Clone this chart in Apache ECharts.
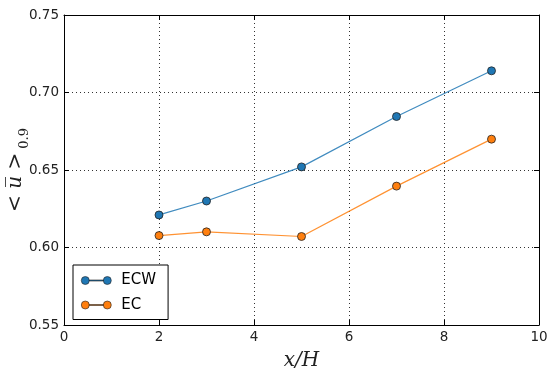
<!DOCTYPE html>
<html>
<head>
<meta charset="utf-8">
<script src="https://cdn.jsdelivr.net/npm/echarts@6/dist/echarts.min.js"></script>
<style>html,body{margin:0;padding:0;background:#fff}#c{width:550px;height:379px}</style>
</head>
<body>
<div id="c"></div>
<script>
const xValues = [2, 3, 5, 7, 9];
const ecwValues = [0.621, 0.630, 0.652, 0.6845, 0.714];
const ecValues = [0.6077, 0.6101, 0.6071, 0.6396, 0.6699];
const seriesNames = ['ECW', 'EC'];
const seriesColors = ['#1f77b4', '#ff7f0e'];

const chart = echarts.init(document.getElementById('c'), null, {renderer: 'canvas'});
const tickFont = {fontFamily: 'DejaVu Sans', fontSize: 13.5, color: '#222'};
const legendIcon = 'path://M0,4 a4,4 0 1,0 8,0 a4,4 0 1,0 -8,0 Z M8,3.5 L22,3.5 L22,4.5 L8,4.5 Z M22,4 a4,4 0 1,0 8,0 a4,4 0 1,0 -8,0 Z';

function mkSeries(name, vals, color) {
  return {
    name: name, type: 'line',
    data: xValues.map((x, i) => [x, vals[i]]),
    symbol: 'circle', symbolSize: 8,
    lineStyle: {color: color, width: 1.2, opacity: 0.85},
    itemStyle: {color: color, borderColor: '#222', borderWidth: 0.8},
    emphasis: {disabled: true},
    z: 5
  };
}

chart.setOption({
  animation: false,
  grid: {left: 64, right: 11, top: 15, bottom: 54, show: false, containLabel: false, outerBoundsMode: 'none'},
  legend: {
    left: 73, top: 265, orient: 'vertical',
    padding: [8, 12, 7, 8],
    borderColor: '#000', borderWidth: 1, backgroundColor: '#fff',
    itemWidth: 30, itemHeight: 8, itemGap: 9.5,
    icon: legendIcon,
    textStyle: {fontFamily: 'DejaVu Sans', fontSize: 15, color: '#000', padding: [0, 0, 0, 5], lineHeight: 14},
    data: seriesNames.map((n, i) => ({name: n, itemStyle: {color: seriesColors[i], borderColor: '#222', borderWidth: 0.6}}))
  },
  xAxis: [{
    type: 'value', min: 0, max: 10, interval: 2, position: 'bottom',
    axisLine: {show: true, lineStyle: {color: '#000', width: 1}},
    axisTick: {show: true, inside: true, length: 5, lineStyle: {color: '#000'}},
    axisLabel: Object.assign({margin: 5}, tickFont),
    splitLine: {show: true, lineStyle: {color: '#333', type: [1, 3], width: 1}},
    name: 'x/H', nameLocation: 'middle', nameGap: 26, nameMoveOverlap: false,
    nameTextStyle: {fontFamily: 'DejaVu Serif', fontStyle: 'italic', fontSize: 20, color: '#222'}
  }, {
    type: 'value', min: 0, max: 10, interval: 2, position: 'top',
    axisLine: {show: true, onZero: false, lineStyle: {color: '#000', width: 1}},
    axisTick: {show: true, inside: true, length: 5, lineStyle: {color: '#000'}},
    axisLabel: {show: false}, splitLine: {show: false}
  }],
  yAxis: [{
    type: 'value', min: 0.55, max: 0.75, interval: 0.05, position: 'left',
    axisLine: {show: true, onZero: false, lineStyle: {color: '#000', width: 1}},
    axisTick: {show: true, inside: true, length: 5, lineStyle: {color: '#000'}},
    axisLabel: Object.assign({margin: 5, formatter: v => v.toFixed(2)}, tickFont),
    splitLine: {show: true, lineStyle: {color: '#333', type: [1, 3], width: 1}},
    name: '{a|<}{u| u\u0305 }{a|>}{s| 0.9}', nameLocation: 'middle', nameRotate: 90, nameGap: 33, nameMoveOverlap: false,
    nameTextStyle: {
      rich: {
        a: {fontFamily: 'DejaVu Serif', fontSize: 20, color: '#222', lineHeight: 30, verticalAlign: 'middle'},
        u: {fontFamily: 'DejaVu Serif', fontStyle: 'italic', fontSize: 20, color: '#222', lineHeight: 30, verticalAlign: 'middle'},
        s: {fontFamily: 'DejaVu Serif', fontSize: 13, color: '#222', lineHeight: 30, verticalAlign: 'bottom'}
      }
    }
  }, {
    type: 'value', min: 0.55, max: 0.75, interval: 0.05, position: 'right',
    axisLine: {show: true, onZero: false, lineStyle: {color: '#000', width: 1}},
    axisTick: {show: true, inside: true, length: 5, lineStyle: {color: '#000'}},
    axisLabel: {show: false}, splitLine: {show: false}
  }],
  series: [
    mkSeries(seriesNames[0], ecwValues, seriesColors[0]),
    mkSeries(seriesNames[1], ecValues, seriesColors[1])
  ]
});
</script>
</body>
</html>
